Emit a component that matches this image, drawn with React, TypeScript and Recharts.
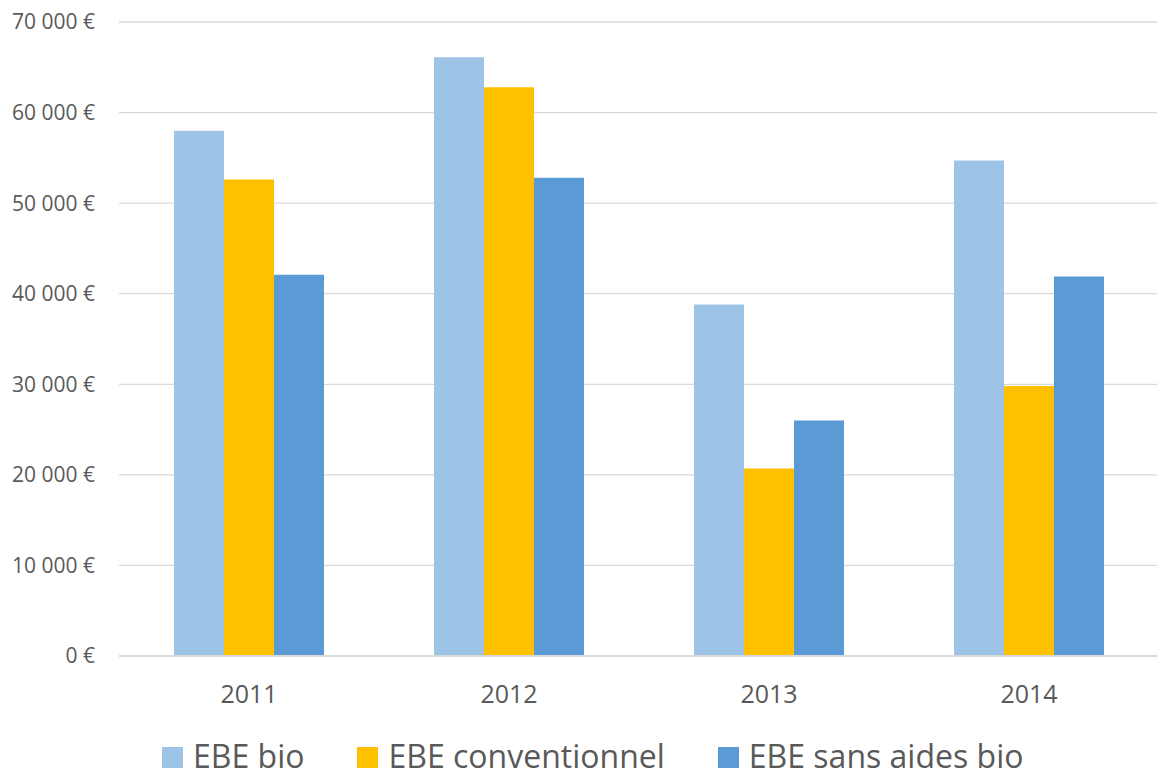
import React from "react";
import { BarChart, Bar, XAxis, YAxis, CartesianGrid, Legend } from "recharts";

const years = ["2011", "2012", "2013", "2014"];
const ebeBio = [58000, 66100, 38800, 54700];
const ebeConventionnel = [52600, 62800, 20700, 29800];
const ebeSansAidesBio = [42100, 52800, 26000, 41900];
const yTicks = [0, 10000, 20000, 30000, 40000, 50000, 60000, 70000];

const seriesNames = ["EBE bio", "EBE conventionnel", "EBE sans aides bio"];
const seriesColors = ["#9DC3E6", "#FFC000", "#5B9BD5"];

const data = years.map((y, i) => ({
  year: y,
  bio: ebeBio[i],
  conv: ebeConventionnel[i],
  sans: ebeSansAidesBio[i],
}));

const FONT = "'Open Sans', sans-serif";
const TEXT = "#595959";

const fmt = (v: number) => {
  if (v === 0) return "0 €";
  const s = String(v);
  return s.slice(0, s.length - 3) + " " + s.slice(s.length - 3) + " €";
};

const renderLegend = (props: any) => {
  const payload = props.payload || [];
  return (
    <div
      style={{
        display: "flex",
        alignItems: "center",
        height: 30,
        marginTop: 19,
        paddingLeft: 162,
        fontFamily: FONT,
        fontSize: 32,
        lineHeight: "30px",
        color: TEXT,
        whiteSpace: "nowrap",
      }}
    >
      {payload.map((p: any, i: number) => (
        <div key={i} style={{ display: "flex", alignItems: "center", marginRight: 53 }}>
          <div style={{ width: 21, height: 21, background: p.color, marginRight: 10, marginTop: 2 }} />
          <span style={{ display: "inline-block", height: 30, lineHeight: "30px" }}>{p.value}</span>
        </div>
      ))}
    </div>
  );
};

export default function App() {
  return (
    <div
      style={{
        position: "absolute",
        left: 0,
        top: 0,
        width: 1157,
        height: 772,
        overflow: "hidden",
        background: "#fff",
      }}
    >
      <BarChart
        width={1159}
        height={772}
        data={data}
        margin={{ top: 22, right: 0, left: 0, bottom: 0 }}
        barCategoryGap={55}
        barGap={0}
      >
        <CartesianGrid vertical={false} stroke="#D9D9D9" strokeWidth={1.3} />
        <XAxis
          dataKey="year"
          height={66}
          axisLine={{ stroke: "#D9D9D9", strokeWidth: 2 }}
          tickLine={false}
          tickMargin={23}
          tick={{ fill: TEXT, fontSize: 25, fontFamily: FONT }}
        />
        <YAxis
          width={119}
          domain={[0, 70000]}
          ticks={yTicks}
          axisLine={false}
          tickLine={false}
          tickMargin={18}
          tickFormatter={fmt}
          tick={{ fill: TEXT, fontSize: 21, fontFamily: FONT }}
        />
        <Legend
          verticalAlign="bottom"
          height={50}
          content={renderLegend}
          wrapperStyle={{ left: 0, width: 1159, bottom: 0 }}
        />
        <Bar dataKey="bio" name={seriesNames[0]} fill={seriesColors[0]} isAnimationActive={false} />
        <Bar dataKey="conv" name={seriesNames[1]} fill={seriesColors[1]} isAnimationActive={false} />
        <Bar dataKey="sans" name={seriesNames[2]} fill={seriesColors[2]} isAnimationActive={false} />
      </BarChart>
    </div>
  );
}
